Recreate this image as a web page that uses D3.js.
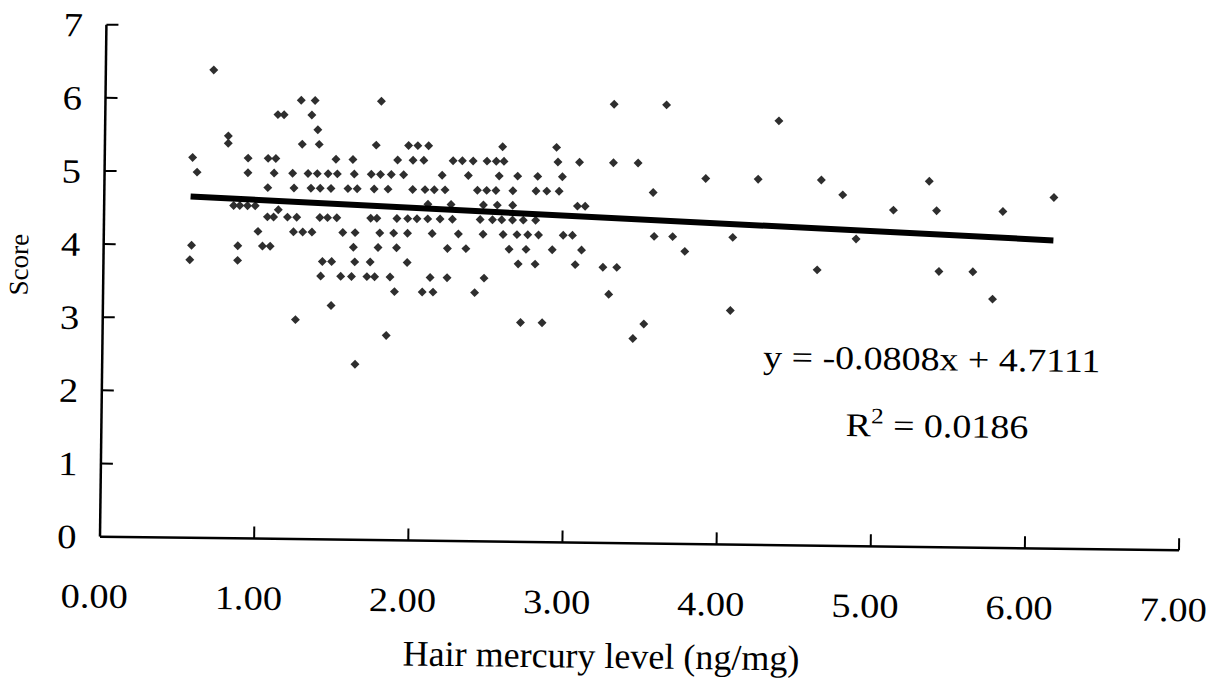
<!DOCTYPE html>
<html>
<head>
<meta charset="utf-8">
<script src="https://cdn.jsdelivr.net/npm/d3@7"></script>
<style>
  html, body { margin: 0; padding: 0; background: #fff; }
  svg { display: block; }
  text { font-family: "Liberation Serif", "Times New Roman", serif; fill: #000; }
</style>
</head>
<body>
<svg id="chart" width="1217" height="680"></svg>
<script>
// ---- data ----
const scoreLevels = [6.4, 6.0, 5.8, 5.6, 5.5, 5.4, 5.2, 5.0, 4.8, 4.6, 4.55, 4.5, 4.4, 4.2, 4.0, 3.8, 3.77, 3.6, 3.4, 3.2, 3.0, 2.8, 2.4];
const hairMercuryByLevel = [
  [0.70],
  [1.27, 1.36, 1.79, 3.30, 3.64],
  [1.12, 1.16, 1.34, 4.37],
  [1.38],
  [0.80],
  [0.80, 1.28, 1.39, 1.76, 1.97, 2.03, 2.10, 2.58, 2.93],
  [0.57, 0.93, 1.06, 1.11, 1.50, 1.61, 1.90, 2.00, 2.07, 2.26, 2.32, 2.39, 2.48, 2.54, 2.59, 2.94, 3.08, 3.30, 3.46],
  [0.60, 0.93, 1.10, 1.22, 1.32, 1.38, 1.45, 1.51, 1.62, 1.73, 1.79, 1.86, 1.94, 2.19, 2.36, 2.56, 2.68, 2.81, 2.97, 3.90, 4.24, 4.65, 5.35],
  [1.06, 1.23, 1.34, 1.40, 1.47, 1.58, 1.64, 1.75, 1.84, 2.00, 2.08, 2.14, 2.21, 2.42, 2.48, 2.54, 2.65, 2.80, 2.87, 2.95, 3.56, 4.79, 6.16],
  [2.10, 2.25, 2.46, 2.55, 2.65, 3.07, 3.12, 5.12, 5.40, 5.83],
  [0.84, 0.88, 0.93, 0.98],
  [1.13],
  [1.06, 1.10, 1.19, 1.25, 1.40, 1.45, 1.51, 1.73, 1.77, 1.90, 1.97, 2.03, 2.10, 2.18, 2.26, 2.44, 2.52, 2.58, 2.65, 2.72, 2.80],
  [1.00, 1.23, 1.29, 1.35, 1.55, 1.63, 1.79, 1.88, 1.97, 2.13, 2.30, 2.46, 2.59, 2.68, 2.75, 2.82, 2.98, 3.04, 3.57, 3.69, 4.08, 4.88],
  [0.57, 0.87, 1.03, 1.08, 1.62, 1.78, 1.90, 2.23, 2.35, 2.63, 2.74, 2.91, 3.10, 3.77],
  [0.56, 0.87, 1.42, 1.48, 1.63, 1.73, 1.97, 2.69, 2.80, 3.06],
  [3.24, 3.33, 4.63, 5.42, 5.64],
  [1.41, 1.54, 1.61, 1.71, 1.76, 1.86, 2.12, 2.23, 2.47],
  [1.89, 2.07, 2.14, 2.41, 3.28, 5.77],
  [1.48, 4.07],
  [1.25, 2.71, 2.85, 3.51],
  [1.84, 3.44],
  [1.64]
];
const xTickValues = [0, 1, 2, 3, 4, 5, 6, 7];
const xTickLabels = ["0.00", "1.00", "2.00", "3.00", "4.00", "5.00", "6.00", "7.00"];
const yTickValues = [0, 1, 2, 3, 4, 5, 6, 7];
const slope = -0.0808;
const intercept = 4.7111;
const equationText = "y = -0.0808x + 4.7111";
const r2Value = "0.0186";
const xTitle = "Hair mercury level (ng/mg)";
const yTitle = "Score";

// ---- build points ----
const points = [];
hairMercuryByLevel.forEach((xs, i) => xs.forEach(x => points.push({ x: x, y: scoreLevels[i] })));

// ---- layout ----
const svg = d3.select("#chart");
const root = svg.append("g").attr("transform", "rotate(0.72, 608, 340)");

const x = d3.scaleLinear().domain([0, 7]).range([102.5, 1181.6]);
const y = d3.scaleLinear().domain([0, 7]).range([543, 31]);

// axes lines
root.append("line").attr("x1", x(0)).attr("x2", x(7)).attr("y1", y(0)).attr("y2", y(0))
  .attr("stroke", "#000").attr("stroke-width", 2.5);
root.append("line").attr("x1", x(0)).attr("x2", x(0)).attr("y1", y(0)).attr("y2", y(7))
  .attr("stroke", "#000").attr("stroke-width", 2.5);

// ticks (inward)
root.selectAll(".xtick").data(xTickValues.slice(1)).enter().append("line")
  .attr("x1", d => x(d)).attr("x2", d => x(d)).attr("y1", y(0)).attr("y2", y(0) - 12)
  .attr("stroke", "#000").attr("stroke-width", 2);
root.selectAll(".ytick").data(yTickValues.slice(1)).enter().append("line")
  .attr("x1", x(0)).attr("x2", x(0) + 12).attr("y1", d => y(d)).attr("y2", d => y(d))
  .attr("stroke", "#000").attr("stroke-width", 2);

// tick labels
root.selectAll(".xlab").data(xTickValues).enter().append("text")
  .attr("transform", d => `translate(${x(d) - 5},614) scale(1.13,1)`)
  .attr("text-anchor", "middle").attr("font-size", 34)
  .text((d, i) => xTickLabels[i]);
root.selectAll(".ylab").data(yTickValues).enter().append("text")
  .attr("transform", d => `translate(79,${y(d) + 12}) scale(1.14,1)`)
  .attr("text-anchor", "end").attr("font-size", 34)
  .text(d => d);

// axis titles
root.append("text").attr("transform", "translate(605,668)")
  .attr("text-anchor", "middle").attr("font-size", 36).text(xTitle);
root.append("text").attr("transform", "translate(27,272) rotate(-90)")
  .attr("text-anchor", "middle").attr("font-size", 27).text(yTitle);

// points
const sym = d3.symbol().type(d3.symbolSquare).size(40);
root.append("g").selectAll("path").data(points).enter().append("path")
  .attr("d", sym)
  .attr("transform", d => `translate(${x(d.x)},${y(d.y)}) rotate(45)`)
  .attr("fill", "#2e2e2e");

// trend line
const ext = d3.extent(points, d => d.x);
const line = d3.line().x(d => x(d)).y(d => y(slope * d + intercept));
root.append("path").attr("d", line(ext))
  .attr("fill", "none").attr("stroke", "#000").attr("stroke-width", 6);

// equation
root.append("text").attr("transform", "translate(932,366) scale(1.15,1)")
  .attr("text-anchor", "middle").attr("font-size", 33).text(equationText);
const r2 = root.append("text").attr("transform", "translate(938,433) scale(1.15,1)")
  .attr("text-anchor", "middle").attr("font-size", 33);
r2.append("tspan").text("R");
r2.append("tspan").attr("font-size", 22).attr("dy", -13).text("2");
r2.append("tspan").attr("dy", 13).text(" = " + r2Value);
</script>
</body>
</html>
